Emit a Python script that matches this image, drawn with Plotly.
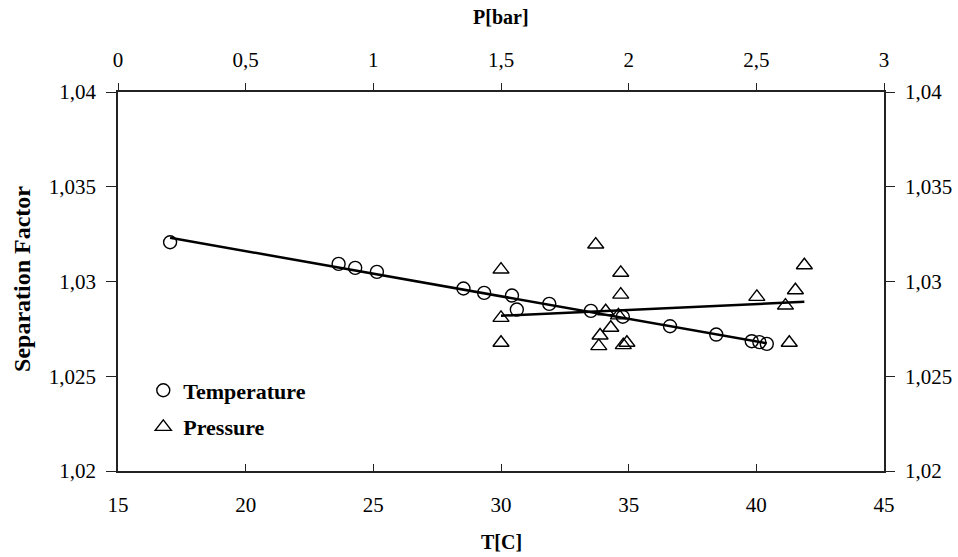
import numpy as np
import plotly.graph_objects as go

# Temperature series (T in C, separation factor)
temp_T = [17.04, 23.64, 24.29, 25.14, 28.53, 29.34, 30.43, 30.62, 31.89,
          33.52, 34.77, 36.62, 38.43, 39.82, 40.12, 40.41]
temp_sf = [1.03207, 1.03093, 1.03072, 1.03051, 1.02963, 1.02940, 1.02926, 1.02852,
           1.02882, 1.02845, 1.02814, 1.02764, 1.02720, 1.02685, 1.02680, 1.02671]

# Pressure series (P in bar, separation factor)
pres_P = [1.500, 1.500, 1.500, 1.871, 1.969, 1.969, 1.910, 1.960, 1.930,
          1.888, 1.883, 1.993, 1.979, 2.502, 2.653, 2.614, 2.688, 2.629]
pres_sf = [1.03063, 1.02808, 1.02677, 1.03195, 1.03046, 1.02931, 1.02843, 1.02821,
           1.02756, 1.02715, 1.02659, 1.02677, 1.02664, 1.02919, 1.02954, 1.02873,
           1.03086, 1.02677]

x_ticks = [15, 20, 25, 30, 35, 40, 45]
x_ticklabels = ["15", "20", "25", "30", "35", "40", "45"]
p_ticks = [0, 0.5, 1, 1.5, 2, 2.5, 3]
p_ticklabels = ["0", "0,5", "1", "1,5", "2", "2,5", "3"]
y_ticks = [1.02, 1.025, 1.03, 1.035, 1.04]
y_ticklabels = ["1,02", "1,025", "1,03", "1,035", "1,04"]

FONT = "Liberation Serif"

# Linear trend lines from data
tT = np.array(temp_T); tS = np.array(temp_sf)
cT = np.polyfit(tT, tS, 1)
lineT_x = np.array([tT.min(), tT.max()])
lineT_y = np.polyval(cT, lineT_x)

pP = np.array(pres_P); pS = np.array(pres_sf)
cP = np.polyfit(pP, pS, 1)
lineP_x = np.array([pP.min(), pP.max()])
lineP_y = np.polyval(cP, lineP_x)

fig = go.Figure()
fig.add_trace(go.Scatter(x=lineT_x, y=lineT_y, mode="lines",
                         line=dict(color="black", width=2.5),
                         showlegend=False, hoverinfo="skip"))
fig.add_trace(go.Scatter(x=lineP_x, y=lineP_y, mode="lines", xaxis="x2",
                         line=dict(color="black", width=2.5),
                         showlegend=False, hoverinfo="skip"))
fig.add_trace(go.Scatter(x=temp_T, y=temp_sf, mode="markers", name="Temperature",
                         legendgroup="t",
                         marker=dict(symbol="circle-open", size=13,
                                     color="black", line=dict(width=1.4, color="black"))))
fig.add_trace(go.Scatter(x=pres_P, y=pres_sf, mode="markers", name="Pressure",
                         xaxis="x2", legendgroup="p",
                         marker=dict(symbol="triangle-up-open", size=14,
                                     color="black", line=dict(width=1.4, color="black"))))
# invisible trace to activate right axis
fig.add_trace(go.Scatter(x=[None], y=[None], yaxis="y2", showlegend=False,
                         hoverinfo="skip"))

axis_common = dict(showgrid=False, zeroline=False, showline=True, automargin=False,
                   linecolor="#222", linewidth=1.6, tickcolor="#222",
                   tickfont=dict(family=FONT, size=21, color="black"))

fig.update_layout(
    width=958, height=557,
    paper_bgcolor="white", plot_bgcolor="white",
    margin=dict(l=118, r=74, t=92, b=86),
    font=dict(family=FONT, color="black"),
    xaxis=dict(range=[15, 45], tickvals=x_ticks, ticktext=x_ticklabels,
               ticks="inside", ticklen=7, tickwidth=1.2, ticklabelstandoff=14,
               **axis_common),
    xaxis2=dict(range=[0, 3], tickvals=p_ticks, ticktext=p_ticklabels,
                overlaying="x", side="top", anchor="y",
                ticks="outside", ticklen=7, tickwidth=1.2, ticklabelstandoff=8,
                **axis_common),
    yaxis=dict(range=[1.02, 1.04], tickvals=y_ticks, ticktext=y_ticklabels,
               ticks="outside", ticklen=10, tickwidth=1.2, ticklabelstandoff=6,
               **axis_common),
    yaxis2=dict(range=[1.02, 1.04], tickvals=y_ticks, ticktext=y_ticklabels,
                overlaying="y", side="right", anchor="x",
                ticks="outside", ticklen=9, tickwidth=1.2, ticklabelstandoff=6,
                **axis_common),
    legend=dict(x=0.033, y=0.268, xanchor="left", yanchor="top",
                bgcolor="rgba(0,0,0,0)", tracegroupgap=5,
                font=dict(family=FONT, size=22, color="black", weight="bold")),
    annotations=[
        dict(text="<b>Separation Factor</b>", xref="paper", yref="paper",
             x=-0.1247, y=0.508, textangle=-90, showarrow=False,
             font=dict(family=FONT, size=24, color="black"),
             xanchor="center", yanchor="middle"),
        dict(text="<b>T[C]</b>", xref="paper", yref="paper",
             x=0.5, y=-0.188, showarrow=False,
             font=dict(family=FONT, size=20, color="black"),
             xanchor="center", yanchor="middle"),
        dict(text="<b>P[bar]</b>", xref="paper", yref="paper",
             x=0.5, y=1.199, showarrow=False,
             font=dict(family=FONT, size=20, color="black"),
             xanchor="center", yanchor="middle"),
    ],
)

fig.write_html("out.html", config={"displayModeBar": False},
               post_script="document.body.style.margin='0px';")
